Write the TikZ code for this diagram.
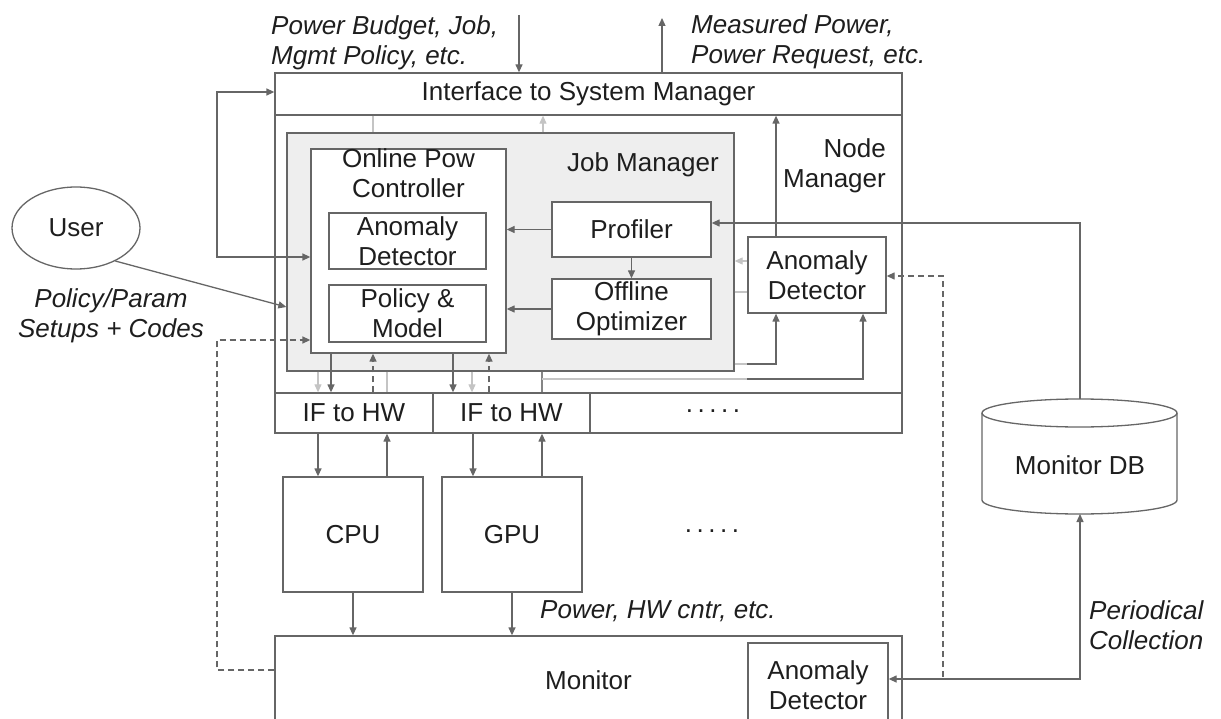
\documentclass[tikz,border=0pt]{standalone}
\usepackage{fontspec}
\setmainfont{Liberation Sans}
\usetikzlibrary{arrows.meta,calc,shapes.geometric}

\definecolor{ln}{HTML}{666666}
\definecolor{lt}{HTML}{C4C4C4}
\definecolor{tx}{HTML}{1E1E1E}
\definecolor{jmfill}{HTML}{EEEEEE}

\begin{document}
\begin{tikzpicture}[x=1pt,y=-1pt,
  font=\fontsize{26}{30}\selectfont, text=tx,
  box/.style={draw=ln, line width=1.3pt, fill=white, inner sep=0pt, align=center},
  lbl/.style={inner sep=0pt, align=center},
  ital/.style={inner sep=0pt, font=\fontsize{26}{30.5}\selectfont\itshape},
  conn/.style={draw=ln, line width=1.3pt},
  arr/.style={conn, -{Triangle[length=8pt,width=7pt]}},
  arrboth/.style={conn, {Triangle[length=8pt,width=7pt]}-{Triangle[length=8pt,width=7pt]}},
  dsh/.style={dash pattern=on 6pt off 4pt},
  light/.style={draw=lt, line width=1.1pt},
  arrlight/.style={light, -{Triangle[length=8pt,width=7pt]}},
]
\useasboundingbox (0,0) rectangle (1221,719);

% ---------- node manager and its interfaces ----------
\node[box, minimum width=627pt, minimum height=318pt] (nm) at (588.5,274) {};
\node[box, minimum width=627pt, minimum height=42pt] (iface) at (588.5,94) {Interface to System Manager};
\node[lbl, anchor=north east, align=right] (nmtext) at (886,138.5) {Node\\Manager};

\node[box, minimum width=158pt, minimum height=40pt] (if1) at (354,413) {IF to HW};
\node[box, minimum width=157pt, minimum height=40pt] (if2) at (511.5,413) {IF to HW};
\node[box, minimum width=312pt, minimum height=40pt] (if3) at (746,413) {};
\node[lbl] (ifdots) at (713,411) {.\hspace{4.5pt}.\hspace{4.5pt}.\hspace{4.5pt}.\hspace{4.5pt}.};

% ---------- job manager ----------
\node[box, fill=jmfill, minimum width=447pt, minimum height=238pt] (jm) at (510.5,252) {};
\node[lbl, anchor=base east] (jmtext) at (719,172) {Job Manager};

\node[box, minimum width=195pt, minimum height=204pt] (ctl) at (408.5,251) {};
\node[lbl, anchor=north] (ctltext) at (408.5,148.5) {Online Pow\\Controller};
\node[box, minimum width=157pt, minimum height=56pt] (ad1) at (407.5,241) {Anomaly\\Detector};
\node[box, minimum width=157pt, minimum height=57pt] (pm) at (407.5,313.5) {Policy \&\\Model};

\node[box, minimum width=159pt, minimum height=55pt] (prof) at (631.5,229.5) {Profiler};
\node[box, minimum width=159pt, minimum height=60pt] (opt) at (631.5,309) {Offline\\Optimizer};

\node[box, minimum width=138pt, minimum height=76pt] (ad2) at (817,275) {Anomaly\\Detector};

% ---------- hardware ----------
\node[box, minimum width=140pt, minimum height=115pt] (cpu) at (353,534.5) {CPU};
\node[box, minimum width=140pt, minimum height=115pt] (gpu) at (512,534.5) {GPU};
\node[lbl] (hwdots) at (712,531) {.\hspace{4.5pt}.\hspace{4.5pt}.\hspace{4.5pt}.\hspace{4.5pt}.};

% ---------- monitor ----------
\node[box, minimum width=627pt, minimum height=88pt] (mon) at (588.5,680) {Monitor};
\node[box, minimum width=140pt, minimum height=84pt] (mad) at (818,685) {Anomaly\\Detector};

% ---------- monitor database ----------
\coordinate (dbc) at (1080,465);
\draw[conn, fill=white] (982,413) -- (982,500) arc[start angle=180, end angle=360, x radius=97.5pt, y radius=14pt] -- (1177,413);
\draw[conn, fill=white] (1079.5,413) ellipse [x radius=97.5pt, y radius=14pt];
\node[lbl] (dbtext) at (dbc) {Monitor DB};

% ---------- user ----------
\node[draw=ln, line width=1.3pt, ellipse, minimum width=128pt, minimum height=82pt, inner sep=0pt] (user) at (76,228) {User};

% ---------- labels ----------
\node[ital, anchor=north west, align=left] (lin) at (271,15) {Power Budget, Job,\\Mgmt Policy, etc.};
\node[ital, anchor=north west, align=left] (lout) at (691,14) {Measured Power,\\Power Request, etc.};
\node[ital, anchor=north, align=center] (luser) at (111,288) {Policy/Param\\Setups + Codes};
\node[ital, anchor=base west] (lhw) at (540,618) {Power, HW cntr, etc.};
\node[ital, anchor=north west, align=left] (lcol) at (1089,600) {Periodical\\Collection};

% ---------- connectors: system manager ----------
\coordinate (pbtop) at (519,15);
\draw[arr] (pbtop) -- (pbtop |- iface.north);
\coordinate (mptop) at (662,18);
\draw[arr] (mptop |- iface.north) -- (mptop);

\coordinate (lpa) at (217,257);
\coordinate (lpb) at (217,92);
\draw[arrboth] (ctl.west |- lpa) -- (lpa) -- (lpb) -- (iface.west |- lpb);

\coordinate (tl1) at (373,0);
\coordinate (tl2) at (543,0);
\draw[light] (iface.south -| tl1) -- (jm.north -| tl1);
\draw[arrlight] (jm.north -| tl2) -- (iface.south -| tl2);

% ---------- connectors: user and monitor feedback ----------
\coordinate (uend) at (287,307);
\draw[arr] (user.-40) -- (jm.west |- uend);

\coordinate (dla) at (217,670);
\coordinate (dlb) at (217,340);
\draw[arr, dsh] (mon.west |- dla) -- (dla) -- (dlb) -- (ctl.west |- dlb);

% ---------- connectors: inside job manager ----------
\draw[arr] (prof.west) -- (prof.west -| ctl.east);
\draw[arr] (opt.west) -- (opt.west -| ctl.east);
\draw[arr] (prof.south) -- (opt.north);

% ---------- connectors: node anomaly detector ----------
\coordinate (adx) at (776,0);
\draw[arr] (ad2.north -| adx) -- (iface.south -| adx);
\coordinate (adl1) at (0,261);
\coordinate (adl2) at (0,292);
\draw[arrlight] (ad2.west |- adl1) -- (jm.east |- adl1);
\draw[light] (jm.east |- adl2) -- (ad2.west |- adl2);

\coordinate (ja) at (776,364);
\coordinate (jam) at (747,364);
\draw[light] (jm.east |- ja) -- (jam);
\draw[arr] (jam) -- (ja) -- (ad2.south -| ja);

\coordinate (jbx) at (542,0);
\coordinate (jb) at (542,379);
\coordinate (jbm) at (747,379);
\coordinate (jbe) at (863,379);
\draw[conn, draw=ln!80] (jm.south -| jbx) -- (if2.north -| jbx);
\draw[light] (jb) -- (jbm);
\draw[arr] (jbm) -- (jbe) -- (ad2.south -| jbe);

% ---------- connectors: controller to hardware interfaces ----------
\coordinate (h1) at (318,0);
\coordinate (h2) at (331,0);
\coordinate (h3) at (373,0);
\coordinate (h4) at (387,0);
\coordinate (h5) at (453,0);
\coordinate (h6) at (472,0);
\coordinate (h7) at (489,0);
\draw[arrlight] (jm.south -| h1) -- (if1.north -| h1);
\draw[arr] (ctl.south -| h2) -- (if1.north -| h2);
\draw[arr, dsh] (if1.north -| h3) -- (ctl.south -| h3);
\draw[light] (jm.south -| h4) -- (if1.north -| h4);
\draw[arr] (ctl.south -| h5) -- (if2.north -| h5);
\draw[arrlight] (jm.south -| h6) -- (if2.north -| h6);
\draw[arr, dsh] (if2.north -| h7) -- (ctl.south -| h7);

% ---------- connectors: hardware ----------
\coordinate (c1) at (318,0);
\coordinate (c2) at (387,0);
\coordinate (g1) at (473,0);
\coordinate (g2) at (542,0);
\draw[arr] (if1.south -| c1) -- (cpu.north -| c1);
\draw[arr] (cpu.north -| c2) -- (if1.south -| c2);
\draw[arr] (if2.south -| g1) -- (gpu.north -| g1);
\draw[arr] (gpu.north -| g2) -- (if2.south -| g2);
\draw[arr] (cpu.south) -- (cpu.south |- mon.north);
\draw[arr] (gpu.south) -- (gpu.south |- mon.north);

% ---------- connectors: monitor database ----------
\coordinate (dbtop) at (1080,399);
\coordinate (dbk) at (1080,223);
\draw[arr] (dbtop) -- (dbk) -- (prof.east |- dbk);
\coordinate (dbbot) at (1080,514);
\coordinate (dbj) at (1080,679);
\draw[arrboth] (mad.east |- dbj) -- (dbj) -- (dbbot);
\coordinate (dsa) at (943,677);
\coordinate (dsb) at (943,276);
\draw[arr, dsh] (dsa) -- (dsb) -- (ad2.east |- dsb);
\end{tikzpicture}
\end{document}
